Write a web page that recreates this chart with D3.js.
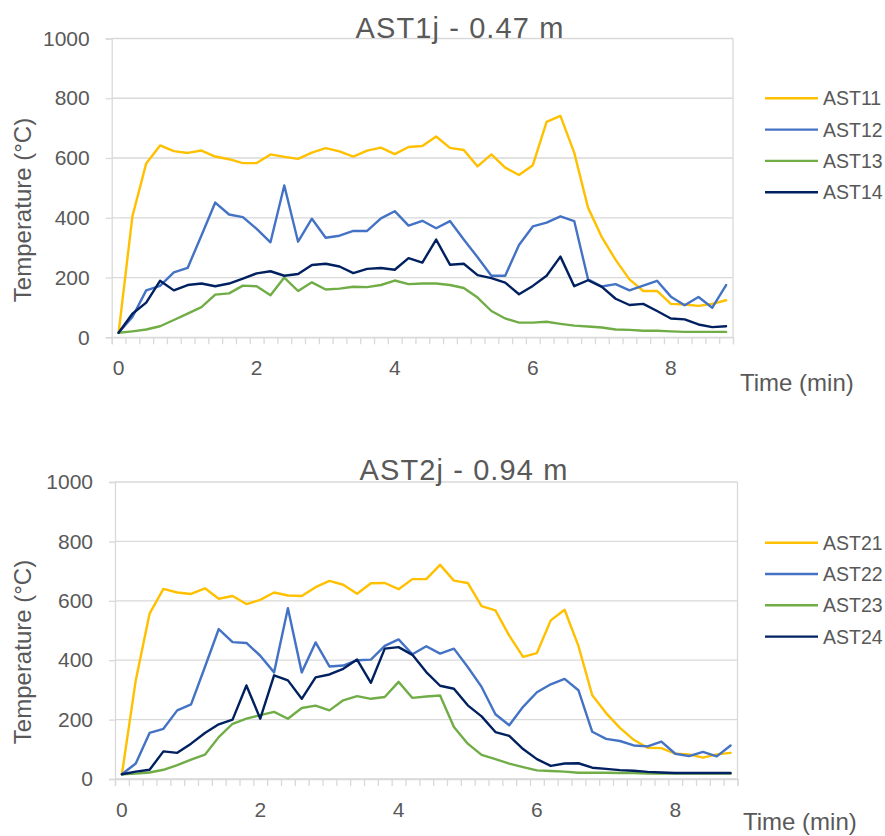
<!DOCTYPE html>
<html><head><meta charset="utf-8">
<script src="https://cdn.jsdelivr.net/npm/d3@7"></script>
<style>body{margin:0;background:#fff}svg{display:block}text{font-family:"Liberation Sans",Arial,sans-serif;fill:#595959}</style>
</head><body>
<script>
const times = [0,0.2,0.4,0.6,0.8,1.0,1.2,1.4,1.6,1.8,2.0,2.2,2.4,2.6,2.8,3.0,3.2,3.4,3.6,3.8,4.0,4.2,4.4,4.6,4.8,5.0,5.2,5.4,5.6,5.8,6.0,6.2,6.4,6.6,6.8,7.0,7.2,7.4,7.6,7.8,8.0,8.2,8.4,8.6,8.8];
const xTickLabels = [0,2,4,6,8];
const yTicks = [0,200,400,600,800,1000];
const seriesColors = ["#FFC000","#4472C4","#70AD47","#002060"];

const ast11 = [15,405,582,642,623,617,625,605,596,583,583,612,604,597,618,633,622,605,625,635,613,637,640,672,634,627,572,612,568,543,576,721,741,618,434,335,259,194,155,155,112,110,105,112,124];
const ast12 = [15,68,157,172,217,232,341,451,411,402,363,318,508,320,397,333,340,356,356,398,422,374,390,365,389,327,268,206,206,309,371,384,405,389,194,170,178,157,173,189,136,107,135,99,175];
const ast13 = [15,20,26,37,58,79,101,143,147,173,171,141,200,155,184,160,163,169,168,175,190,178,180,180,175,165,133,88,63,49,49,52,45,39,36,33,26,25,22,22,20,18,18,18,18];
const ast14 = [15,79,116,189,157,175,180,171,180,196,214,221,206,212,242,246,237,215,229,232,226,265,250,327,243,246,208,198,183,144,172,206,270,171,191,169,129,108,112,88,63,60,43,34,37];

const ast21 = [16,332,557,640,628,623,642,607,616,589,603,628,618,616,646,667,654,624,659,660,639,673,673,721,668,660,582,568,483,411,424,534,570,448,282,222,172,132,105,104,85,83,72,83,88];
const ast22 = [16,52,155,169,231,251,377,505,461,458,415,359,575,359,460,379,382,400,402,448,470,420,447,422,439,377,310,218,181,243,292,319,337,299,159,135,128,113,110,126,85,77,91,76,113];
const ast23 = [16,18,22,31,47,65,82,141,186,203,215,226,203,239,247,231,265,279,270,276,327,273,278,281,175,119,81,67,52,40,29,27,25,21,21,21,20,20,18,18,18,18,18,18,18];
const ast24 = [16,25,31,93,88,119,155,184,200,315,203,349,332,270,342,352,371,402,324,439,444,418,360,314,304,248,211,158,145,101,67,44,52,53,38,34,30,28,24,22,20,20,20,20,20];

const panels = [
  {title:"AST1j - 0.47 m", names:["AST11","AST12","AST13","AST14"], data:[ast11,ast12,ast13,ast14],
   left:111.7, right:733, top:38.5, bottom:337.3, titleX:460, titleY:37.5, yTitleY:210, timeX:740, timeY:391, legY:98.3},
  {title:"AST2j - 0.94 m", names:["AST21","AST22","AST23","AST24"], data:[ast21,ast22,ast23,ast24],
   left:115, right:737.5, top:482, bottom:779, titleX:464, titleY:480, yTitleY:652, timeX:743, timeY:830, legY:542.7}
];

const svg = d3.select("body").append("svg").attr("width",885).attr("height",836);

panels.forEach(p => {
  const g = svg.append("g");
  const x = d3.scaleLinear().domain([times[0]-0.1, times[times.length-1]+0.1]).range([p.left,p.right]);
  const y = d3.scaleLinear().domain([0,1000]).range([p.bottom,p.top]);

  // gridlines
  g.append("g").selectAll("line").data(yTicks).join("line")
    .attr("x1",p.left).attr("x2",p.right).attr("y1",d=>y(d)).attr("y2",d=>y(d))
    .attr("stroke","#D9D9D9").attr("stroke-width",1.3);
  // right border
  g.append("line").attr("x1",p.right).attr("x2",p.right).attr("y1",p.top).attr("y2",p.bottom)
    .attr("stroke","#D9D9D9").attr("stroke-width",1.3);

  // y axis
  const yAxis = d3.axisLeft(y).tickValues(yTicks).tickSize(6).tickPadding(16).tickFormat(d3.format("d"));
  const ya = g.append("g").attr("transform",`translate(${p.left},0)`).call(yAxis);
  ya.select(".domain").attr("stroke","#D9D9D9").attr("stroke-width",1.3);
  ya.selectAll(".tick line").attr("stroke","#D9D9D9").attr("stroke-width",1.3);
  ya.selectAll(".tick text").attr("font-size",21).attr("fill","#595959").style("font-family","'Liberation Sans',Arial,sans-serif");

  // x axis: minor ticks at category boundaries
  const bounds = times.map(t => t-0.1).concat([times[times.length-1]+0.1]);
  const xa = g.append("g").attr("transform",`translate(0,${p.bottom})`)
    .call(d3.axisBottom(x).tickValues(bounds).tickSize(7).tickFormat(""));
  xa.select(".domain").attr("stroke","#D9D9D9").attr("stroke-width",1.3);
  xa.selectAll(".tick line").attr("stroke","#D9D9D9").attr("stroke-width",1.3);
  // x labels
  g.append("g").selectAll("text").data(xTickLabels).join("text")
    .attr("x",d=>x(d)).attr("y",p.bottom+38).attr("text-anchor","middle")
    .attr("font-size",21).text(d=>d);

  // lines
  const line = d3.line().x((d,i)=>x(times[i])).y(d=>y(d));
  p.data.forEach((s,k) => {
    g.append("path").datum(s).attr("d",line).attr("fill","none")
      .attr("stroke",seriesColors[k]).attr("stroke-width",2.4).attr("stroke-linejoin","round").attr("stroke-linecap","round");
  });

  // title
  g.append("text").attr("x",p.titleX).attr("y",p.titleY).attr("text-anchor","middle")
    .attr("font-size",29).attr("letter-spacing",1.1).text(p.title);
  // y title
  g.append("text").attr("transform",`translate(31,${p.yTitleY}) rotate(-90)`).attr("text-anchor","middle")
    .attr("font-size",24).text("Temperature (°C)");
  // x title
  g.append("text").attr("x",p.timeX).attr("y",p.timeY).attr("font-size",24).text("Time (min)");

  // legend
  p.names.forEach((n,k) => {
    const ly = p.legY + k*31.3;
    g.append("line").attr("x1",765).attr("x2",818).attr("y1",ly).attr("y2",ly)
      .attr("stroke",seriesColors[k]).attr("stroke-width",2.4);
    g.append("text").attr("x",823).attr("y",ly+7).attr("font-size",19.5).text(n);
  });
});
</script>
</body></html>
